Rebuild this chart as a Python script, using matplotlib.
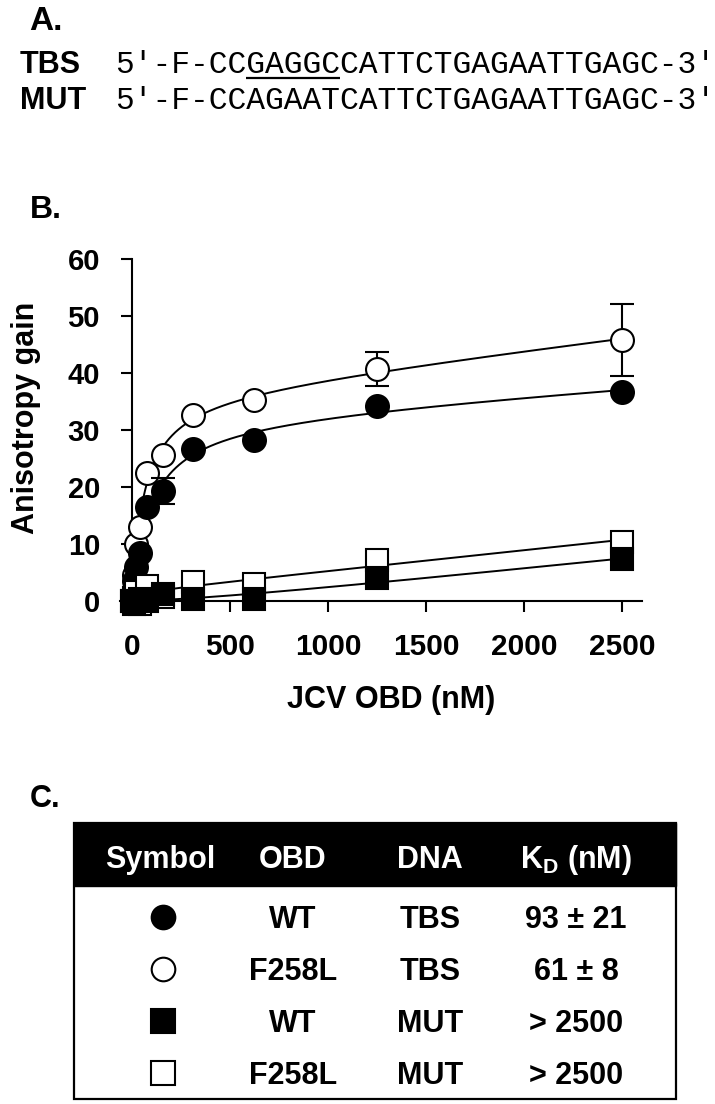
import numpy as np
import matplotlib
matplotlib.use("Agg")
import matplotlib.pyplot as plt
from matplotlib.patches import Rectangle

plt.rcParams['font.family'] = ['Liberation Sans', 'DejaVu Sans']
plt.rcParams['font.weight'] = 'bold'
plt.rcParams['mathtext.fontset'] = 'custom'
plt.rcParams['mathtext.bf'] = 'Liberation Sans:bold'
plt.rcParams['mathtext.rm'] = 'Liberation Sans:bold'

# data
conc = [0, 9.8, 19.5, 39, 78, 156, 312, 625, 1250, 2500]
wt_tbs = [0, 3.5, 6.0, 8.5, 16.5, 19.3, 26.7, 28.2, 34.2, 36.7]
wt_tbs_err = [0, 0, 0, 0, 0, 2.3, 0, 0, 0, 0]
f258l_tbs = [0.5, 4.6, 10.0, 13.0, 22.5, 25.6, 32.6, 35.3, 40.7, 45.8]
f258l_tbs_err = [0, 0, 0, 0, 0, 0, 0, 0, 2.9, 6.3]
wt_mut = [0, -0.5, 0, 0.3, 0, 1.2, 0.3, 0.3, 4.0, 7.3]
f258l_mut = [0, 0.5, 1.5, -0.5, 2.6, 0.7, 3.3, 3.0, 7.2, 10.4]

seq_names = ['TBS', 'MUT']
seqs = ["5′-F-CCGAGGCCATTCTGAGAATTGAGC-3′",
        "5′-F-CCAGAATCATTCTGAGAATTGAGC-3′"]

tab_header = ['Symbol', 'OBD', 'DNA', r'K$_{\mathbf{D}}$ (nM)']
tab_obd = ['WT', 'F258L', 'WT', 'F258L']
tab_dna = ['TBS', 'TBS', 'MUT', 'MUT']
tab_kd = ['93 ± 21', '61 ± 8', '> 2500', '> 2500']
tab_marker = ['o', 'o', 's', 's']
tab_fill = ['black', 'white', 'black', 'white']


def fit(x, y):
    # hyperbola plus linear term, Kd by grid search
    x = np.asarray(x, float)
    y = np.asarray(y, float)
    best = None
    for kd in np.linspace(5, 5000, 2500):
        A = np.column_stack([x / (kd + x), x])
        coef = np.linalg.lstsq(A, y, rcond=None)[0]
        r = np.sum((A @ coef - y) ** 2)
        if best is None or r < best[0]:
            best = (r, kd, coef)
    _, kd, coef = best
    xx = np.linspace(0, 2500, 600)
    return xx, coef[0] * xx / (kd + xx) + coef[1] * xx


W, H = 715, 1104
fig = plt.figure(figsize=(W / 100, H / 100), dpi=100)

# overlay in pixel coordinates for panels A and C
ax0 = fig.add_axes([0, 0, 1, 1])
ax0.set_xlim(0, W)
ax0.set_ylim(H, 0)
ax0.axis('off')

ax0.text(29, 30, 'A.', fontsize=24, ha='left', va='baseline')
ax0.text(30, 218, 'B.', fontsize=23, ha='left', va='baseline')
ax0.text(30, 807, 'C.', fontsize=22, ha='left', va='baseline')

# panel A sequences
r = fig.canvas.get_renderer()
for i, (nm, s) in enumerate(zip(seq_names, seqs)):
    yb = 73 + 36 * i
    ax0.text(20, yb, nm, fontsize=22, ha='left', va='baseline')
    t = ax0.text(115, yb, s, fontsize=22.5, ha='left', va='baseline',
                 family=['Liberation Mono', 'DejaVu Sans Mono'], weight='normal')
    if i == 0:
        bb = t.get_window_extent(r).transformed(ax0.transData.inverted())
        cw = (bb.x1 - bb.x0) / len(s)
        ax0.plot([bb.x0 + 7 * cw, bb.x0 + 12 * cw], [yb + 5, yb + 5],
                 color='black', lw=1.6, solid_capstyle='butt')

# panel C table
tx0, tx1 = 74, 676
ax0.add_patch(Rectangle((tx0, 823), tx1 - tx0, 63, facecolor='black',
                        edgecolor='black'))
ax0.add_patch(Rectangle((tx0, 823), tx1 - tx0, 276, facecolor='none',
                        edgecolor='black', lw=1.6))
col_x = [160, 293, 430, 576]
for cx, h in zip(col_x, tab_header):
    ax0.text(cx, 868, h, color='white', fontsize=22, ha='center', va='baseline')
for k in range(len(tab_obd)):
    yb = 928 + 52 * k
    ax0.plot(163, yb - 11, marker=tab_marker[k], ms=17, mfc=tab_fill[k],
             mec='black', mew=1.5, ls='none')
    ax0.text(col_x[1], yb, tab_obd[k], fontsize=22, ha='center', va='baseline')
    ax0.text(col_x[2], yb, tab_dna[k], fontsize=22, ha='center', va='baseline')
    ax0.text(col_x[3], yb, tab_kd[k], fontsize=22, ha='center', va='baseline')

# panel B plot
ax = fig.add_axes([120 / W, 1 - 611 / H, 522 / W, 352 / H])
ax.patch.set_alpha(0)
ax.set_xlim(-61, 2602)
ax.set_ylim(-1.75, 60)
for sp in ['top', 'right']:
    ax.spines[sp].set_visible(False)
ax.spines['left'].set_position(('data', 0))
ax.spines['bottom'].set_position(('data', 0))
for sp in ['left', 'bottom']:
    ax.spines[sp].set_linewidth(1.5)

series = [
    (f258l_tbs, f258l_tbs_err, 'o', 'white'),
    (wt_tbs, wt_tbs_err, 'o', 'black'),
    (f258l_mut, None, 's', 'white'),
    (wt_mut, None, 's', 'black'),
]
x = np.array(conc)
for y, err, m, fc in series:
    xx, yy = fit(x, y)
    ax.plot(xx, yy, color='black', lw=1.4, zorder=2)
for n, (y, err, m, fc) in enumerate(series):
    y = np.array(y)
    if err is not None:
        e = np.array(err)
        sel = e > 0
        ax.errorbar(x[sel], y[sel], yerr=e[sel], fmt='none', ecolor='black',
                    elinewidth=1.5, capsize=8.5, capthick=1.5, zorder=3 + n)
    ax.plot(x, y, ls='none', marker=m, ms=16.5, mfc=fc, mec='black', mew=1.5,
            clip_on=False, zorder=4 + n)

ax.set_xticks([0, 500, 1000, 1500, 2000, 2500])
ax.set_yticks([0, 10, 20, 30, 40, 50, 60])
ax.tick_params(axis='both', direction='out', length=8, width=1.5)
ax.tick_params(axis='x', labelsize=21.5, pad=15)
ax.tick_params(axis='y', labelsize=21, pad=15)
for lab in ax.get_xticklabels() + ax.get_yticklabels():
    lab.set_fontweight('bold')

fig.text(391 / W, 1 - 700 / H, 'JCV OBD (nM)', fontsize=22, ha='center',
         va='center')
fig.text(26 / W, 1 - 418 / H, 'Anisotropy gain', fontsize=22, rotation=90,
         ha='center', va='center')

fig.savefig('out.png', dpi=100)
